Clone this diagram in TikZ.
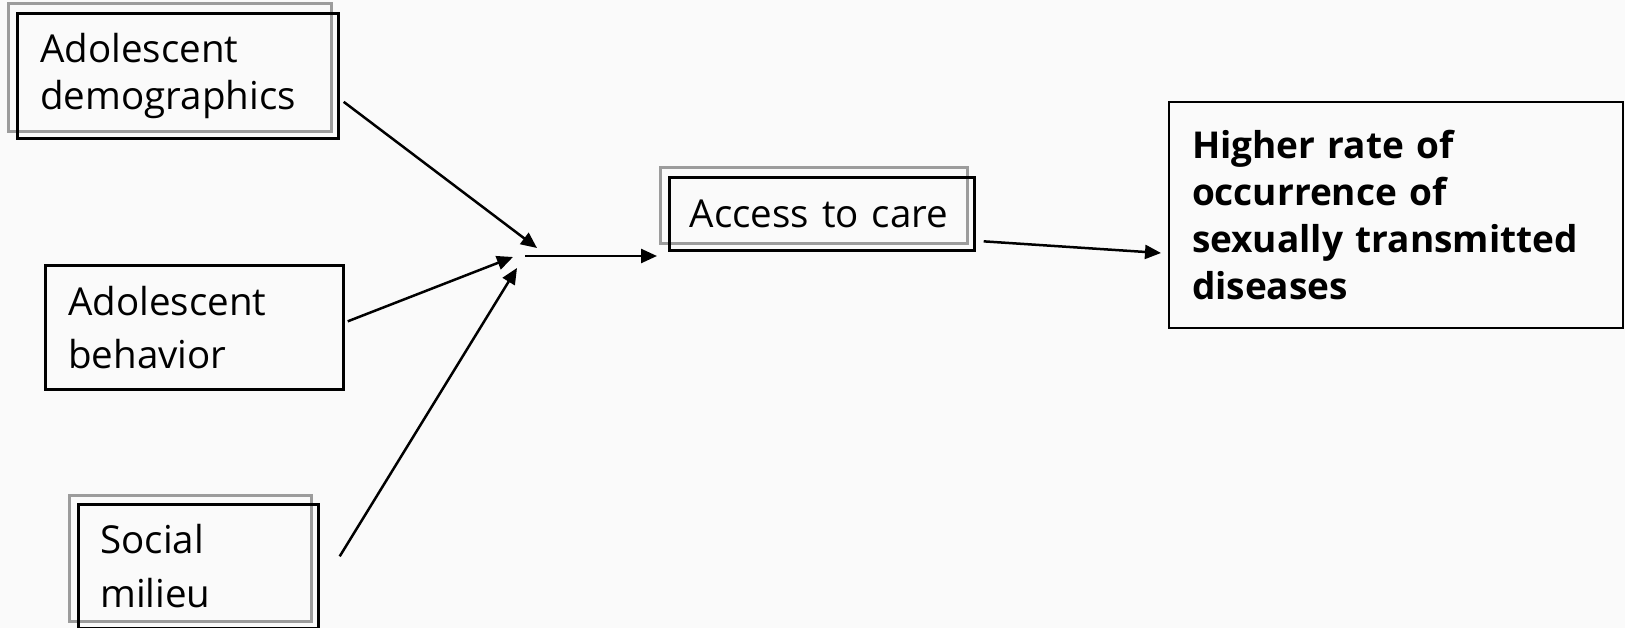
\documentclass[tikz,border=0pt]{standalone}
\usepackage{fontspec}
\setmainfont{Open Sans}
\usetikzlibrary{calc,arrows.meta,backgrounds}
\definecolor{pagegray}{HTML}{FAFAFA}
\definecolor{framegray}{HTML}{9C9C9C}

\tikzset{
  factor/.style={draw=black, line width=2.7pt, anchor=north west, align=left,
    inner xsep=23pt, font=\fontsize{38.5}{47}\selectfont},
  outcome/.style={factor, line width=2pt, font=\bfseries\fontsize{37}{47}\selectfont},
  link/.style={line width=2.5pt, -{Triangle[length=16pt,width=14pt]}}
}

\begin{document}
\begin{tikzpicture}[x=1pt, y=-1pt]
  % page
  \begin{scope}[on background layer]
    \fill[pagegray] (0,0) rectangle (1625,628);
  \end{scope}
  \useasboundingbox (0,0) rectangle (1625,628);

  % ---------- factors on the left ----------
  \node[factor, text width=275pt, minimum height=125pt] (demo) at (16,12)
    {Adolescent\\demographics};
  \node[factor, text width=252pt, minimum height=124pt,
    font=\fontsize{38.5}{53}\selectfont] (behav) at (44,264)
    {Adolescent\\behavior};
  \node[factor, text width=196pt, minimum height=124pt, inner xsep=22pt,
    font=\fontsize{38.5}{54}\selectfont] (social) at (77,503)
    {Social\\milieu};

  % ---------- middle and outcome ----------
  \node[factor, text width=264pt, minimum height=73pt, inner xsep=20.5pt] (access) at (668,176)
    {Access to care};
  \node[outcome, text width=408pt, minimum height=226pt] (std) at (1168,101)
    {Higher rate of\\occurrence of\\sexually transmitted\\diseases};

  % grey frames, set a little up and to the left
  \begin{scope}[on background layer]
    \foreach \n in {demo,access,social}
      \draw[framegray, line width=3pt] ($(\n.north west)+(-8,-8)$) rectangle ($(\n.south east)+(-8,-8)$);
  \end{scope}

  % ---------- arrows ----------
  \coordinate (hub) at (520,258);
  \draw[link] ($(demo.east)+(4,26)$) -- ($(hub)+(17,-10)$);
  \draw[link] ($(behav.east)+(3,-6)$) -- ($(hub)+(-7,-1)$);
  \draw[link] ($(social.east)+(20,-10)$) -- ($(hub)+(-3,10)$);
  \draw[link] ($(hub)+(5,-2)$) -- ($(access.west |- hub)+(-11,-2)$);
  \draw[link] ($(access.east)+(8,27.5)$) -- ($(std.west)+(-7,38)$);
\end{tikzpicture}
\end{document}
